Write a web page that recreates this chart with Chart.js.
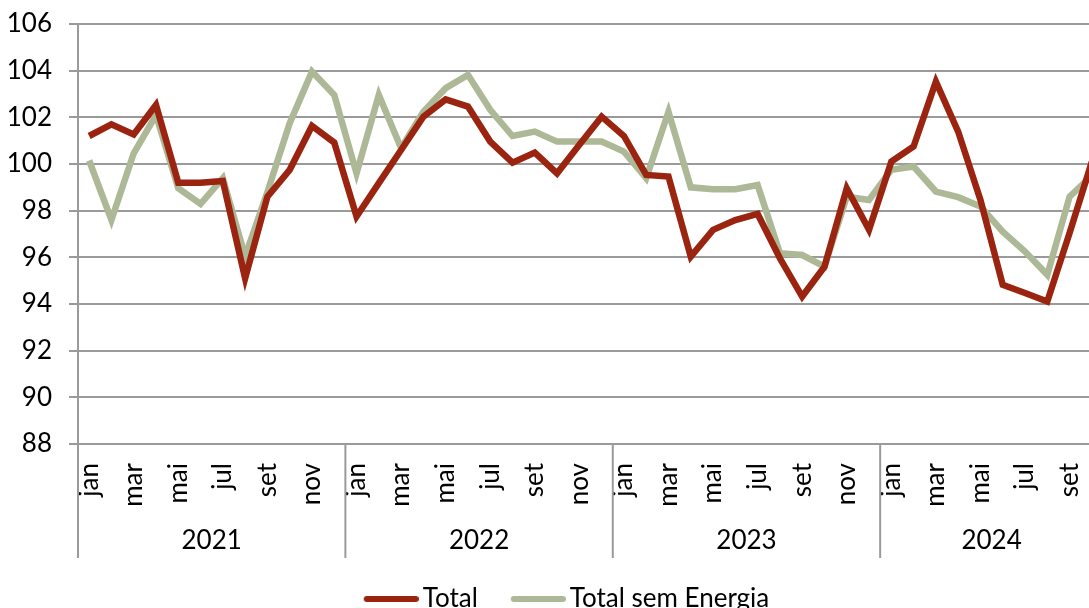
<!DOCTYPE html>
<html>
<head>
<meta charset="utf-8">
<script src="https://cdn.jsdelivr.net/npm/chart.js@4"></script>
<style>
  html, body { margin: 0; padding: 0; background: #fff; overflow: hidden; }
  #wrap { width: 1103px; height: 608px; position: relative; }
</style>
</head>
<body>
<div id="wrap"><canvas id="lineChart"></canvas></div>
<script>
var years = ['2021', '2022', '2023', '2024'];
var months = ['jan', 'fev', 'mar', 'abr', 'mai', 'jun', 'jul', 'ago', 'set', 'out', 'nov', 'dez'];

var total = [
    101.2, 101.7, 101.27, 102.53, 99.2, 99.2, 99.27, 95.1, 98.6, 99.75, 101.63, 100.92,
    97.75, 99.18, 100.6, 102.03, 102.77, 102.46, 100.96, 100.06, 100.49, 99.6, 100.82, 102.03,
    101.2, 99.53, 99.46, 96.03, 97.18, 97.6, 97.86, 95.96, 94.32, 95.6, 98.96, 97.18,
    100.1, 100.75, 103.53, 101.39, 98.46, 94.82, 94.47, 94.11, 97.04, 100.1
];
var totalSemEnergia = [
    100.15, 97.6, 100.46, 102.1, 98.96, 98.29, 99.39, 96.04, 98.8, 101.75, 103.96, 102.96,
    99.6, 102.96, 100.68, 102.24, 103.25, 103.82, 102.32, 101.2, 101.39, 100.96, 100.96, 100.96,
    100.53, 99.39, 102.24, 99.0, 98.92, 98.92, 99.1, 96.18, 96.1, 95.6, 98.6, 98.46,
    99.75, 99.89, 98.82, 98.58, 98.18, 97.1, 96.25, 95.25, 98.6, 99.5
];

var yMin = 88, yMax = 106, yStep = 2;

var red = '#9b2410';
var green = '#adb996';
var gridColor = '#9a9a9a';
var fontFamily = 'Lato';

// one label per month, e.g. "jan 2021"
var labels = total.map(function (v, i) {
    return months[i % 12] + ' ' + years[Math.floor(i / 12)];
});

// legend swatch: thick line with round ends, sitting on the right side
function swatch(color) {
    var c = document.createElement('canvas');
    c.width = 94;
    c.height = 8;
    var g = c.getContext('2d');
    g.strokeStyle = color;
    g.lineWidth = 6;
    g.lineCap = 'round';
    g.beginPath();
    g.moveTo(42, 4);
    g.lineTo(91, 4);
    g.stroke();
    return c;
}

// second row of the x axis: years with separators
var yearAxis = {
    id: 'yearAxis',
    afterDraw: function (chart) {
        var x = chart.scales.x;
        var ctx = chart.ctx;
        var half = (x.getPixelForValue(1) - x.getPixelForValue(0)) / 2;
        ctx.save();
        ctx.strokeStyle = gridColor;
        ctx.lineWidth = 2;
        ctx.fillStyle = '#000';
        ctx.font = '26px ' + fontFamily;
        ctx.textAlign = 'center';
        ctx.textBaseline = 'middle';
        years.forEach(function (yr, k) {
            var first = k * 12;
            var last = Math.min(first + 12, total.length) - 1;
            var left = x.getPixelForValue(first) - half;
            var right = x.getPixelForValue(last) + half;
            ctx.beginPath();
            ctx.moveTo(left, x.top);
            ctx.lineTo(left, x.top + 114);
            ctx.stroke();
            ctx.fillText(yr, (left + right) / 2, x.top + 97);
        });
        ctx.restore();
    }
};

var ctx = document.getElementById('lineChart').getContext('2d');
var myChart = new Chart(ctx, {
    type: 'line',
    data: {
        labels: labels,
        datasets: [{
            label: 'Total',
            data: total,
            borderColor: red,
            backgroundColor: red,
            borderWidth: 6.5,
            pointRadius: 0,
            pointHoverRadius: 0,
            tension: 0
        }, {
            label: 'Total sem Energia',
            data: totalSemEnergia,
            borderColor: green,
            backgroundColor: green,
            borderWidth: 6.5,
            pointRadius: 0,
            pointHoverRadius: 0,
            tension: 0
        }]
    },
    options: {
        responsive: true,
        maintainAspectRatio: false,
        animation: false,
        layout: {
            padding: { left: 0, right: 0, top: 24, bottom: -14 }
        },
        scales: {
            x: {
                offset: true,
                grid: { display: false, drawTicks: false },
                border: { display: false },
                ticks: {
                    autoSkip: false,
                    minRotation: 90,
                    maxRotation: 90,
                    padding: 19,
                    color: '#000',
                    font: { family: fontFamily, size: 26 },
                    callback: function (value, index) {
                        return index % 2 === 0 ? months[index % 12] : '';
                    }
                },
                afterFit: function (scale) {
                    scale.height = 139;
                    scale.paddingLeft = 0;
                    scale.paddingRight = 0;
                }
            },
            y: {
                min: yMin,
                max: yMax,
                grid: { color: gridColor, lineWidth: 2, tickLength: 9 },
                border: { display: true, color: gridColor, width: 2 },
                ticks: {
                    stepSize: yStep,
                    padding: 17,
                    color: '#000',
                    font: { family: fontFamily, size: 26 }
                },
                afterFit: function (scale) {
                    scale.width = 78;
                    scale.paddingTop = 0;
                    scale.paddingBottom = 0;
                }
            }
        },
        plugins: {
            tooltip: { enabled: false },
            legend: {
                position: 'bottom',
                labels: {
                    color: '#000',
                    font: { family: fontFamily, size: 26 },
                    padding: 3,
                    usePointStyle: true,
                    pointStyleWidth: 76,
                    generateLabels: function (chart) {
                        var items = Chart.defaults.plugins.legend.labels.generateLabels(chart);
                        items.forEach(function (item) {
                            item.pointStyle = swatch(item.strokeStyle);
                        });
                        return items;
                    }
                }
            }
        }
    },
    plugins: [yearAxis]
});
</script>
</body>
</html>
